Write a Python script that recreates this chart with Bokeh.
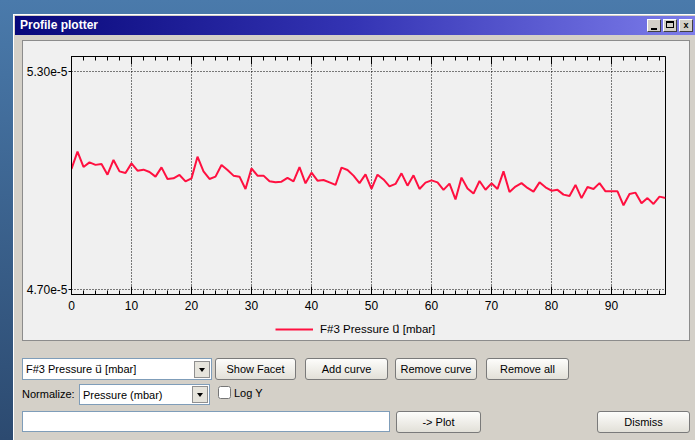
from bokeh.plotting import figure
from bokeh.models import (ColumnDataSource, Legend, LegendItem, LinearAxis, FixedTicker,
                          SingleIntervalTicker, CustomJSTickFormatter, Div, Select, Button,
                          CheckboxGroup, TextInput, InlineStyleSheet, Spacer)
from bokeh.layouts import column, row
from bokeh.embed import file_html
from bokeh.resources import INLINE

# ---------------- data ----------------
index = list(range(100))
pressure_e5 = [
    5.0318, 5.0795, 5.0374, 5.0500, 5.0431, 5.0456, 5.0161, 5.0566, 5.0252, 5.0208,
    5.0473, 5.0272, 5.0299, 5.0236, 5.0106, 5.0363, 5.0043, 5.0059, 5.0153, 4.9977,
    5.0059, 5.0657, 5.0252, 5.0043, 5.0106, 5.0429, 5.0291, 5.0134, 5.0106, 4.9767,
    5.0335, 5.0134, 5.0134, 4.9977, 4.9949, 4.9968, 5.0070, 4.9977, 5.0368, 4.9922,
    5.0216, 4.9996, 5.0015, 4.9949, 4.9877, 5.0354, 5.0291, 5.0134, 4.9927, 5.0170,
    4.9767, 5.0161, 5.0029, 4.9839, 4.9905, 5.0197, 4.9858, 5.0142, 4.9767, 4.9941,
    5.0004, 4.9949, 4.9742, 4.9913, 4.9478, 5.0079, 4.9781, 4.9638, 4.9985, 4.9745,
    4.9922, 4.9767, 5.0252, 4.9685, 4.9831, 4.9927, 4.9795, 4.9693, 4.9949, 4.9811,
    4.9720, 4.9742, 4.9610, 4.9574, 4.9877, 4.9514, 4.9822, 4.9767, 4.9927, 4.9701,
    4.9701, 4.9701, 4.9315, 4.9629, 4.9665, 4.9370, 4.9514, 4.9354, 4.9555, 4.9519,
]
pressure = [v * 1e-5 for v in pressure_e5]
y_ticks = [4.70e-5, 5.30e-5]
x_tick_interval = 10
series_label = "F#3 Pressure u\u20d7 [mbar]"
window_title = "Profile plotter"
curve_choices = [series_label]
normalize_choices = ["Pressure (mbar)"]
row1_buttons = ["Show Facet", "Add curve", "Remove curve", "Remove all"]
log_label = "Log Y"
plot_button = "-> Plot"
dismiss_button = "Dismiss"

FONT = "'Liberation Sans', 'DejaVu Sans', sans-serif"
CANVAS_FONT = "'Liberation Sans', 'DejaVu Sans'"
LINE_COLOR = "#ff1040"
PANEL_BG = "#f0f0f0"

# ---------------- chart ----------------
src = ColumnDataSource(data=dict(index=index, pressure=pressure))

p = figure(width=666, height=278, x_range=(0, 99), y_range=(4.6854e-5, 5.3422e-5),
           output_backend="svg", toolbar_location=None, tools="",
           min_border_left=48, min_border_right=24, min_border_top=15, min_border_bottom=25,
           background_fill_color=PANEL_BG, border_fill_color=PANEL_BG,
           outline_line_color="black", outline_line_width=1, margin=0)

xt = SingleIntervalTicker(interval=x_tick_interval, num_minor_ticks=5)
yt = FixedTicker(ticks=y_ticks, minor_ticks=[])

xa = p.xaxis[0]
xa.ticker = xt
xa.major_tick_in = 8
xa.major_tick_out = 0
xa.minor_tick_in = 4
xa.minor_tick_out = 0
xa.axis_line_color = "black"
xa.major_tick_line_color = "black"
xa.minor_tick_line_color = "black"
xa.major_label_standoff = 6
xa.major_label_text_font = "Liberation Sans"
xa.major_label_text_font_size = "12px"
xa.major_label_text_color = "black"

ya = p.yaxis[0]
ya.ticker = yt
ya.formatter = CustomJSTickFormatter(code="return tick.toExponential(2);")
ya.major_tick_in = 0
ya.major_tick_out = 3
ya.minor_tick_in = 0
ya.minor_tick_out = 0
ya.axis_line_color = "black"
ya.major_tick_line_color = "black"
ya.major_label_standoff = 1
ya.major_label_text_font = "Liberation Sans"
ya.major_label_text_font_size = "12px"
ya.major_label_text_color = "black"

top = LinearAxis(ticker=SingleIntervalTicker(interval=x_tick_interval, num_minor_ticks=5),
                 formatter=CustomJSTickFormatter(code="return '';"),
                 major_tick_in=8, major_tick_out=0, minor_tick_in=4, minor_tick_out=0,
                 major_label_standoff=0, major_label_text_font_size="1px",
                 axis_line_color="black", major_tick_line_color="black",
                 minor_tick_line_color="black")
p.add_layout(top, "above")

p.xgrid.ticker = xt
p.ygrid.ticker = yt
for g in (p.xgrid, p.ygrid):
    g.grid_line_color = "black"
    g.grid_line_dash = "1 2"
    g.grid_line_width = 1

p.line(x="index", y="pressure", source=src, line_color=LINE_COLOR, line_width=2)

# legend strip under the chart (same series, legend only)
p_leg = figure(width=666, height=21, output_backend="svg", toolbar_location=None, tools="",
               x_axis_type=None, y_axis_type=None, min_border=0,
               min_border_left=0, min_border_right=0, min_border_top=0, min_border_bottom=0,
               background_fill_color=None, border_fill_color=None,
               outline_line_color=None, margin=0)
p_leg.grid.visible = False
r_leg = p_leg.line(x="index", y="pressure", source=src, line_color=LINE_COLOR,
                   line_width=2, visible=False)
legend = Legend(items=[LegendItem(label=series_label, renderers=[r_leg])],
                location=(204, 4), orientation="horizontal",
                border_line_color=None, background_fill_alpha=0,
                inactive_fill_alpha=0,
                label_text_font=CANVAS_FONT, label_text_font_size="11.5px",
                label_text_color="black", glyph_width=38, glyph_height=12,
                label_height=12, label_standoff=7, padding=2, margin=0, spacing=0)
p_leg.add_layout(legend, "center")


def gap(w=0, h=0):
    return Spacer(width=w, height=h, margin=0)


border_css = InlineStyleSheet(css=":host { background: #8c8c8c; }")
inner_css = InlineStyleSheet(css=f":host {{ background: {PANEL_BG}; }}")
chart_panel = column([gap(h=1),
                      row([gap(w=1), column([p, p_leg], margin=0, stylesheets=[inner_css]),
                           gap(w=1)], margin=0),
                      gap(h=1)], margin=0, stylesheets=[border_css])

# ---------------- window chrome ----------------
btn_css = InlineStyleSheet(css=f"""
.bk-btn, .bk-btn.bk-btn-default {{
  width: 100%; height: 100%; min-height: 0; padding: 0 2px;
  font-family: {FONT}; font-size: 11px; color: #000;
  background: linear-gradient(#fdfdfb, #e2e0d8); border: 1px solid #7a7a7a;
  border-radius: 3px; box-shadow: none; line-height: 18px;
}}
""")
ARROW = ("url(\"data:image/svg+xml;utf8,<svg xmlns='http://www.w3.org/2000/svg' width='16' height='17'>"
         "<rect x='0.5' y='0.5' width='15' height='16' fill='%23e6e4dc' stroke='%23909090'/>"
         "<path d='M5 7h6l-3 4z' fill='black'/></svg>\")")
inp_css = InlineStyleSheet(css=f"""
.bk-input, select.bk-input, input.bk-input {{
  height: 21px; min-height: 0; padding: 0 3px; font-family: {FONT}; font-size: 11px;
  color: #000; border: 1px solid #7f9db9; border-radius: 0; background-color: #fff;
  box-shadow: none;
}}
select:not([multiple]).bk-input, select:not([size]).bk-input {{
  height: 21px; appearance: none; -webkit-appearance: none;
  background-image: {ARROW};
  background-position: right 1px center; background-size: 16px 17px;
  background-repeat: no-repeat; padding-right: 20px;
}}
.bk-input-group {{ height: 100%; }}
""")
chk_css = InlineStyleSheet(css=f"""
.bk-input-group, label {{ font-family: {FONT}; font-size: 11px; color: #000; }}
label {{ margin: 2px 0 0 0; }}
""")
desk_css = InlineStyleSheet(css=":host { background: linear-gradient(#4a7aab, #2c4a70); }")
win_css = InlineStyleSheet(css=":host { background: #d4d0c8; box-shadow: inset 1px 1px 0 #ffffff; }")
title_css = InlineStyleSheet(css=":host { background: linear-gradient(to right, #08087a 0%, #3434b4 50%, #7c7cea 100%); }")


def win_button(label, w):
    return Button(label=label, width=w, height=22, margin=0, stylesheets=[btn_css])


BOX = ('position:absolute;top:3px;width:14px;height:13px;background:#d4d0c8;'
       'border:1px solid;border-color:#fff #404040 #404040 #fff;box-sizing:border-box;')
title_html = (
    f'<div style="position:relative;width:680px;height:19px;overflow:hidden;">'
    f'<span style="position:absolute;left:5px;top:2px;font:bold 12px {FONT};color:#fff;">{window_title}</span>'
    f'<span style="{BOX}left:632px;">'
    '<span style="position:absolute;left:3px;top:8px;width:6px;height:2px;background:#000;"></span></span>'
    f'<span style="{BOX}left:648px;">'
    '<span style="position:absolute;left:2px;top:1px;width:8px;height:7px;border:1px solid #000;'
    'border-top-width:2px;box-sizing:border-box;"></span></span>'
    f'<span style="{BOX}left:664px;font:bold 9px {FONT};color:#000;line-height:11px;text-align:center;">x</span>'
    '</div>'
)
titlebar = Div(text=title_html, width=680, height=19, margin=0, stylesheets=[title_css])

sel1 = Select(value=curve_choices[0], options=curve_choices, width=190, height=22,
              margin=0, stylesheets=[inp_css])
row1 = row([gap(w=7), sel1,
            gap(w=3), win_button(row1_buttons[0], 81),
            gap(w=9), win_button(row1_buttons[1], 83),
            gap(w=7), win_button(row1_buttons[2], 82),
            gap(w=9), win_button(row1_buttons[3], 83)], margin=0)

norm_div = Div(text=f'<span style="font:11px {FONT};line-height:21px;color:#000;">Normalize:</span>',
               width=54, height=21, margin=0)
sel2 = Select(value=normalize_choices[0], options=normalize_choices, width=131, height=21,
              margin=0, stylesheets=[inp_css])
chk = CheckboxGroup(labels=[log_label], active=[], width=60, height=21,
                    margin=0, stylesheets=[chk_css])
row2 = row([gap(w=7), norm_div, gap(w=3), sel2, gap(w=8), chk], margin=0)

txt = TextInput(value="", width=368, height=21, margin=0, stylesheets=[inp_css])
row3 = row([gap(w=7), txt, gap(w=6), win_button(plot_button, 85), gap(w=116),
            win_button(dismiss_button, 93)], margin=0)

body = column([gap(h=5), row([gap(w=7), chart_panel], margin=0), gap(h=17), row1, gap(h=4),
               row2, gap(h=6), row3, gap(h=7)], margin=0)

window = column([gap(h=2), row([gap(w=2), titlebar], margin=0),
                 row([gap(w=2), body], margin=0)], margin=0, stylesheets=[win_css])

root = column([gap(h=14), row([gap(w=13), window], margin=0)], margin=0,
              stylesheets=[desk_css])

open("out.html", "w").write(file_html(root, INLINE, title=window_title))
